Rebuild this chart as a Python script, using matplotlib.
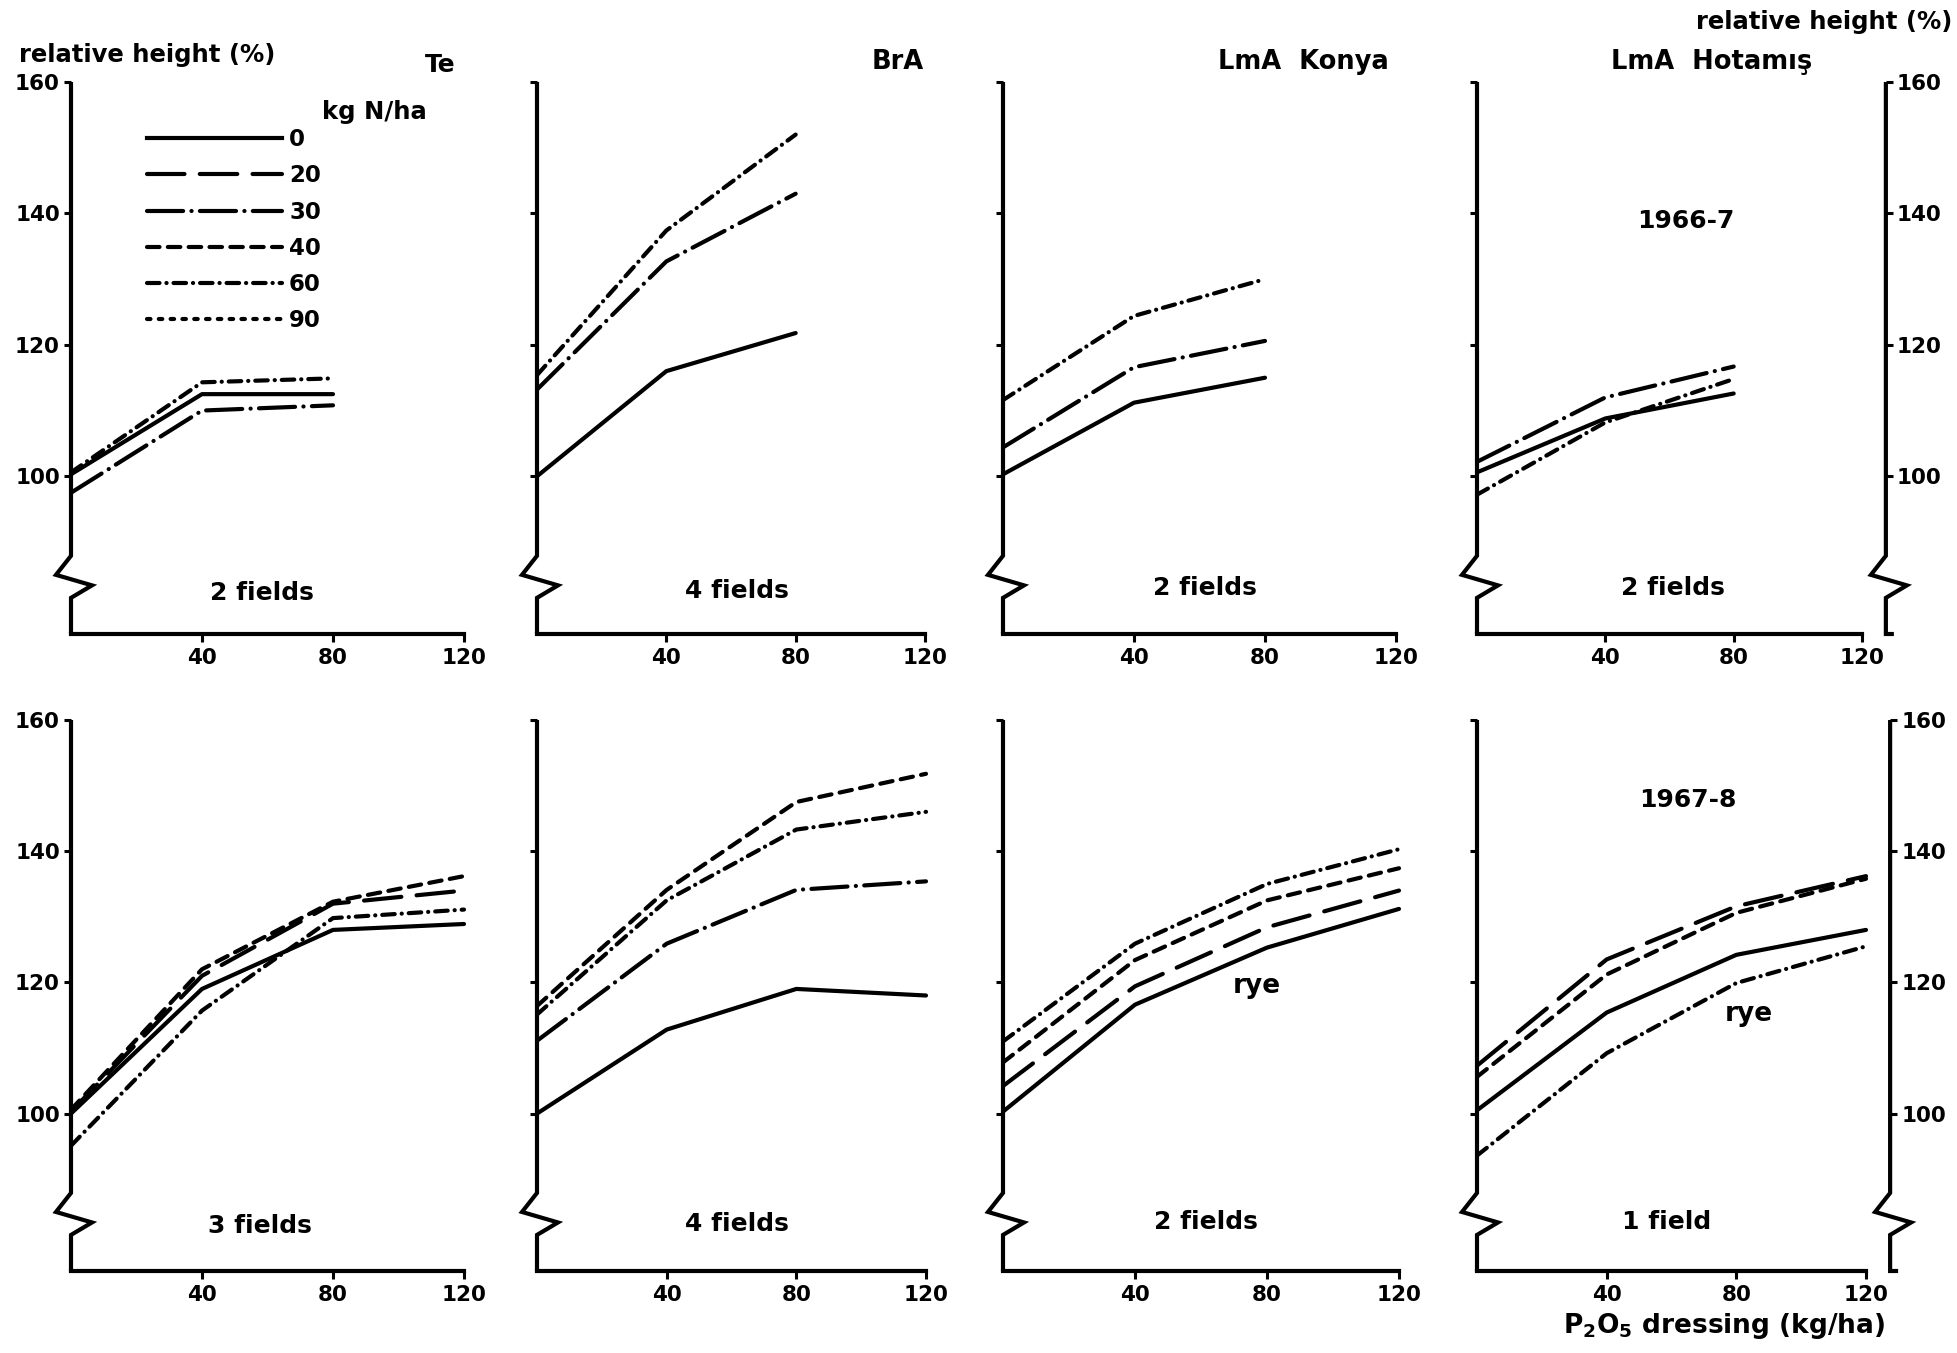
import matplotlib
matplotlib.use("Agg")
import matplotlib.pyplot as plt
from matplotlib.lines import Line2D
from matplotlib.transforms import blended_transform_factory

W, H = 1958, 1353
plt.rcParams['font.family'] = ['DejaVu Sans']
plt.rcParams['font.weight'] = 'bold'
plt.rcParams['mathtext.default'] = 'bf'
plt.rcParams['lines.scale_dashes'] = False

# ---------------- data ----------------
p2o5_6667 = [0, 40, 80]
p2o5_6768 = [0, 40, 80, 120]
n_rates = ['0', '20', '30', '40', '60', '90']
y_ticks = [100, 120, 140, 160]
x_ticks = [40, 80, 120]

# 1966-7
te66_n0 = [100.3, 112.5, 112.5]
te66_n30 = [97.5, 110.0, 110.8]
te66_n60 = [100.6, 114.3, 114.9]

bra66_n0 = [100.0, 116.0, 121.8]
bra66_n30 = [113.2, 132.7, 143.0]
bra66_n60 = [115.4, 137.4, 152.0]

kon66_n0 = [100.3, 111.2, 115.0]
kon66_n30 = [104.4, 116.6, 120.6]
kon66_n60 = [111.6, 124.4, 130.0]

hot66_n0 = [100.6, 108.8, 112.6]
hot66_n30 = [102.2, 112.0, 116.7]
hot66_n60 = [97.2, 108.2, 114.8]

# 1967-8
te67_n0 = [100.0, 119.0, 128.0, 128.9]
te67_n20 = [100.3, 121.0, 132.0, 134.0]
te67_n40 = [100.6, 122.0, 132.3, 136.2]
te67_n60 = [95.1, 115.7, 129.8, 131.1]

bra67_n0 = [100.0, 112.8, 119.0, 118.0]
bra67_n30 = [111.1, 125.9, 134.1, 135.4]
bra67_n60 = [115.1, 132.5, 143.3, 146.0]
bra67_n40 = [116.4, 134.1, 147.5, 151.8]

kon67_n0 = [100.3, 116.6, 125.3, 131.2]
kon67_n20 = [104.2, 119.4, 128.4, 134.0]
kon67_n40 = [107.8, 123.4, 132.5, 137.4]
kon67_n60 = [111.0, 125.9, 135.0, 140.3]

hot67_n0 = [100.5, 115.4, 124.2, 128.0]
hot67_n20 = [107.3, 123.5, 131.6, 136.2]
hot67_n40 = [105.6, 121.2, 130.6, 135.8]
hot67_n60 = [93.6, 109.2, 119.9, 125.5]

sites = ['Te', 'BrA', 'LmA  Konya', 'LmA  Hotamış']
fields_6667 = ['2 fields', '4 fields', '2 fields', '2 fields']
fields_6768 = ['3 fields', '4 fields', '2 fields', '1 field']

panels_top = [
    {'0': te66_n0, '30': te66_n30, '60': te66_n60},
    {'0': bra66_n0, '30': bra66_n30, '60': bra66_n60},
    {'0': kon66_n0, '30': kon66_n30, '60': kon66_n60},
    {'0': hot66_n0, '30': hot66_n30, '60': hot66_n60},
]
panels_bottom = [
    {'0': te67_n0, '20': te67_n20, '40': te67_n40, '60': te67_n60},
    {'0': bra67_n0, '30': bra67_n30, '60': bra67_n60, '40': bra67_n40},
    {'0': kon67_n0, '20': kon67_n20, '40': kon67_n40, '60': kon67_n60},
    {'0': hot67_n0, '20': hot67_n20, '40': hot67_n40, '60': hot67_n60},
]

# ---------------- styles ----------------
LW = 3.0
styles = {
    '0': '-',
    '20': (0, (27, 11)),
    '30': (0, (26, 6, 0.1, 6)),
    '40': (0, (9, 6)),
    '60': (0, (9, 5, 0.1, 5)),
    '90': (0, (2.5, 6.0)),
}

fig = plt.figure(figsize=(W / 100, H / 100), dpi=100)
fig.patch.set_facecolor('white')

YMIN, YMAX = 76, 160
TICK_FS = 15.5
FIELD_FS = 18


def ft(x, y, s, **kw):
    kw.setdefault('ha', 'center')
    kw.setdefault('va', 'center')
    kw.setdefault('fontweight', 'bold')
    return fig.text(x / W, 1 - y / H, s, **kw)


def zig_spine(ax, xpos, bottom_tick=False):
    tr = blended_transform_factory(ax.transAxes, ax.transData)
    w = ax.get_position().width * W
    lft = -15.0 / w
    rgt = 21.0 / w
    xs = [xpos, xpos, xpos + lft, xpos + rgt, xpos, xpos]
    ys = [YMAX, 87.9, 85.0, 83.4, 81.5, YMIN]
    if bottom_tick:
        xs.append(xpos + 8.0 / w)
        ys.append(YMIN)
    ax.add_line(Line2D(xs, ys, transform=tr, color='black', lw=LW,
                       clip_on=False, solid_joinstyle='miter', solid_capstyle='butt'))


def make_panel(left, right, top, bottom, data, xs, col):
    ax = fig.add_axes([left / W, 1 - bottom / H, (right - left) / W, (bottom - top) / H])
    ax.set_xlim(0, 120)
    ax.set_ylim(YMIN, YMAX)
    for key, vals in data.items():
        ax.plot(xs, vals, color='black', lw=LW, linestyle=styles[key],
                dash_capstyle='round', solid_capstyle='round', clip_on=False)
    for s in ['top', 'right', 'left']:
        ax.spines[s].set_visible(False)
    ax.spines['bottom'].set_linewidth(LW)
    zig_spine(ax, 0.0)
    ax.set_xticks(x_ticks)
    ax.set_xticklabels([str(t) for t in x_ticks])
    ax.set_yticks(y_ticks)
    ax.set_yticklabels([str(t) for t in y_ticks])
    ax.tick_params(axis='x', direction='out', length=6, width=2.2, pad=4, labelsize=TICK_FS)
    ax.tick_params(axis='y', direction='out', length=5, width=2.2, pad=3, labelsize=TICK_FS,
                   labelleft=(col == 0))
    ax.patch.set_alpha(0)
    if col == 3:
        ax2 = ax.twinx()
        ax2.set_ylim(YMIN, YMAX)
        ax2.spines['right'].set_position(('axes', 1.062))
        for s in ['top', 'right', 'left', 'bottom']:
            ax2.spines[s].set_visible(False)
        ax2.set_yticks(y_ticks)
        ax2.set_yticklabels([str(t) for t in y_ticks])
        ax2.tick_params(axis='y', direction='out', length=5, width=2.2, pad=3, labelsize=TICK_FS)
        zig_spine(ax2, 1.062, bottom_tick=True)
    return ax


lefts = [71, 537, 1003, 1477]
rights_top = [464, 925, 1396, 1862]
rights_bot = [464, 926, 1399, 1866]

axes_top = []
for i in range(4):
    axes_top.append(make_panel(lefts[i], rights_top[i], 82, 634, panels_top[i], p2o5_6667, i))
axes_bot = []
for i in range(4):
    axes_bot.append(make_panel(lefts[i], rights_bot[i], 720, 1271, panels_bottom[i], p2o5_6768, i))

# legend in first panel
handles = [Line2D([], [], color='black', lw=LW, linestyle=styles[k], dash_capstyle='round')
           for k in n_rates]
leg = axes_top[0].legend(handles, n_rates, loc='upper left',
                         bbox_to_anchor=(147 / W, 1 - 128 / H),
                         bbox_transform=fig.transFigure, frameon=False,
                         handlelength=5.9, handletextpad=0.3, labelspacing=0.58,
                         borderpad=0, borderaxespad=0, prop={'weight': 'bold', 'size': 16.5})
ft(374, 112, 'kg N/ha', fontsize=17.5)

# texts
ft(19, 55, 'relative height (%)', ha='left', fontsize=17.5)
ft(1952, 22, 'relative height (%)', ha='right', fontsize=17.5)
ft(440, 65, sites[0], fontsize=18)
ft(898, 62, sites[1], fontsize=18.5)
ft(1303, 62, sites[2], fontsize=18.5)
ft(1712, 62, sites[3], fontsize=18.5)
ft(1686, 221, '1966-7', fontsize=18)
ft(1688, 800, '1967-8', fontsize=18)

top_field_pos = [(262, 593), (737, 591), (1205, 588), (1673, 588)]
bot_field_pos = [(260, 1226), (737, 1224), (1206, 1222), (1667, 1222)]
for (x, y), s in zip(top_field_pos, fields_6667):
    ft(x, y, s, fontsize=FIELD_FS)
for (x, y), s in zip(bot_field_pos, fields_6768):
    ft(x, y, s, fontsize=FIELD_FS)

ft(1257, 986, 'rye', fontsize=19)
ft(1749, 1014, 'rye', fontsize=19)
ft(1724, 1326, r'P$_2$O$_5$ dressing (kg/ha)', fontsize=19)

fig.savefig('out.png', dpi=100, facecolor='white')
